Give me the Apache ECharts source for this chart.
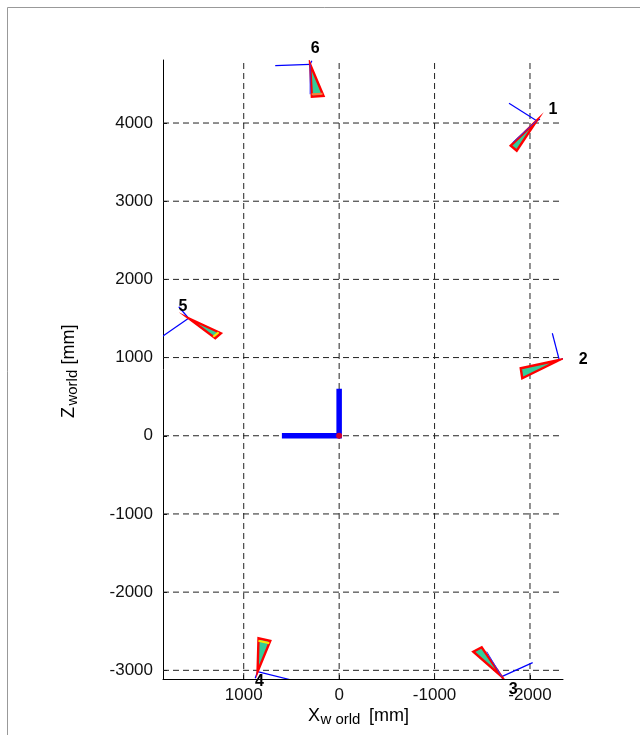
<!DOCTYPE html>
<html>
<head>
<meta charset="utf-8">
<script src="https://cdn.jsdelivr.net/npm/echarts@6/dist/echarts.min.js"></script>
<style>
  html, body { margin: 0; padding: 0; background: #ffffff; }
  #chart { width: 640px; height: 735px; }
</style>
</head>
<body>
<div id="chart"></div>
<script>
// Axis ticks and visible ranges (world coordinates, mm)
const xTicks = [1000, 0, -1000, -2000];
const zTicks = [-3000, -2000, -1000, 0, 1000, 2000, 3000, 4000];
const xRange = [-2346, 1846];
const zRange = [-3111, 4806];

// Camera poses seen from above: optical centre, the two far corners of the
// view frustum, and the end points of the projected camera axes.
const cameraIds = ['1', '2', '3', '4', '5', '6'];
const cameraCenters = [[-2070, 4030], [-2307, 969], [-1704, -3081], [855, -3017], [1578, 1503], [304, 4751]];
const frustumCornerA = [[-1798, 3710], [-1903, 863], [-1406, -2761], [845, -2590], [1239, 1311], [286, 4337]];
const frustumCornerB = [[-1861, 3646], [-1919, 735], [-1494, -2705], [722, -2624], [1298, 1247], [164, 4346]];
const axisEndLong = [[-1780, 4252], [-2234, 1311], [-2028, -2902], [503, -3123], [1871, 1255], [670, 4733]];
const axisEndShort = [[-2105, 4048], [-2356, 991], [-1714, -3114], [880, -3101], [1681, 1650], [286, 4797]];
const viewAxisEnd = [[-1818, 3751], null, [-1547, -2761], null, null, [304, 4368]];
const labelPositions = [[-2241, 4166], [-2558, 978], [-1825, -3251], [835, -3145], [1637, 1651], [251, 4949]];

// World frame origin with its two in-plane axes
const worldAxes = [[600, 0], [0, 0], [0, 600]];
const worldOrigin = [[0, 0]];

const FONT = "'Liberation Sans', Arial, Helvetica, sans-serif";
const imagePlaneColors = { '4': '#ffe600', '5': '#ffe600', '6': '#ff7a3a' };

const chart = echarts.init(document.getElementById('chart'), null, { renderer: 'canvas' });

function gridLineSeries(values, vertical) {
  return {
    type: 'custom',
    silent: true,
    clip: false,
    z: 1,
    data: values.map(v => (vertical ? [v, 0] : [0, v])),
    encode: { x: 0, y: 1 },
    renderItem(params, api) {
      const v = vertical ? api.value(0) : api.value(1);
      const p1 = api.coord(vertical ? [v, zRange[0]] : [xRange[1], v]);
      const p2 = api.coord(vertical ? [v, zRange[1]] : [xRange[0], v]);
      return {
        type: 'line',
        shape: { x1: p1[0], y1: p1[1], x2: p2[0], y2: p2[1] },
        style: { stroke: '#222222', lineWidth: 1, lineDash: [6, 4] }
      };
    }
  };
}

function lineEl(p, q, color, width) {
  return {
    type: 'line',
    shape: { x1: p[0], y1: p[1], x2: q[0], y2: q[1] },
    style: { stroke: color, lineWidth: width }
  };
}

function towards(p, target, dist) {
  const dx = target[0] - p[0], dy = target[1] - p[1];
  const len = Math.hypot(dx, dy) || 1;
  return [p[0] + dx / len * dist, p[1] + dy / len * dist];
}

function renderCamera(params, api) {
  const i = params.dataIndex;
  const c = api.coord(cameraCenters[i]);
  const a = api.coord(frustumCornerA[i]);
  const b = api.coord(frustumCornerB[i]);
  const children = [
    lineEl(c, api.coord(axisEndLong[i]), '#0000ff', 1.2),
    lineEl(c, api.coord(axisEndShort[i]), '#0000ff', 1.2),
    {
      type: 'polygon',
      shape: { points: [c, a, b] },
      style: { fill: '#33cc99', stroke: '#ff0000', lineWidth: 2.4, lineJoin: 'miter' }
    }
  ];
  const plane = imagePlaneColors[cameraIds[i]];
  if (plane) {
    children.push(lineEl(towards(a, c, 2.5), towards(b, c, 2.5), plane, 2));
  }
  if (viewAxisEnd[i]) {
    children.push(lineEl(c, api.coord(viewAxisEnd[i]), '#3030ff', 1));
  }
  return { type: 'group', children };
}

function renderLabel(params, api) {
  const i = params.dataIndex;
  const p = api.coord(labelPositions[i]);
  return {
    type: 'text',
    x: p[0],
    y: p[1],
    style: {
      text: cameraIds[i],
      font: 'bold 16px ' + FONT,
      fill: '#000000',
      align: 'center',
      verticalAlign: 'middle'
    }
  };
}

// Axis title: main letter, lowered subscript, then the unit
function titleGroup(x, y, rotation, main, sub, unit, unitOffset) {
  const sMain = 18, sSub = 15;
  return {
    type: 'group',
    x, y, rotation,
    children: [
      { type: 'text', x: 0, y: -6.3, style: { text: main, font: sMain + 'px ' + FONT, fill: '#000', verticalAlign: 'middle' } },
      { type: 'text', x: 12.4, y: 3.3 - 5.3, style: { text: sub, font: sSub + 'px ' + FONT, fill: '#000', verticalAlign: 'middle' } },
      { type: 'text', x: unitOffset, y: -6.3, style: { text: unit, font: sMain + 'px ' + FONT, fill: '#000', verticalAlign: 'middle' } }
    ]
  };
}

const plainNumber = v => String(v);

const option = {
  animation: false,
  backgroundColor: '#ffffff',
  grid: { left: 163, right: 77, top: 60, bottom: 56, containLabel: false },
  xAxis: {
    type: 'value',
    inverse: true,
    min: xRange[0],
    max: xRange[1],
    axisLine: { show: true, onZero: false, lineStyle: { color: '#000', width: 1 } },
    axisTick: { show: true, inside: true, length: 4, customValues: xTicks, lineStyle: { color: '#000' } },
    axisLabel: { customValues: xTicks, formatter: plainNumber, fontSize: 17, fontFamily: FONT, color: '#111', margin: 8 },
    splitLine: { show: false }
  },
  yAxis: {
    type: 'value',
    min: zRange[0],
    max: zRange[1],
    axisLine: { show: true, onZero: false, lineStyle: { color: '#000', width: 1 } },
    axisTick: { show: true, inside: true, length: 4, customValues: zTicks, lineStyle: { color: '#000' } },
    axisLabel: { customValues: zTicks, formatter: plainNumber, fontSize: 17, fontFamily: FONT, color: '#111', margin: 10 },
    splitLine: { show: false }
  },
  graphic: [
    { type: 'rect', z: -10, shape: { x: 7.5, y: 7.5, width: 700, height: 800 }, style: { fill: null, stroke: '#999999', lineWidth: 1 } },
    titleGroup(308, 722, 0, 'X', 'w orld', '[mm]', 61),
    titleGroup(75, 418, Math.PI / 2, 'Z', 'world', '[mm]', 53.5)
  ],
  series: [
    gridLineSeries(xTicks, true),
    gridLineSeries(zTicks, false),
    {
      type: 'line',
      data: worldAxes,
      symbol: 'none',
      z: 4,
      lineStyle: { color: '#0000ff', width: 5.5, cap: 'butt', join: 'miter' },
      silent: true
    },
    {
      type: 'scatter',
      data: worldOrigin,
      symbolSize: 6,
      z: 5,
      itemStyle: { color: '#ff0000' },
      silent: true
    },
    {
      type: 'custom',
      clip: true,
      z: 6,
      data: cameraCenters.map(p => p.slice()),
      encode: { x: 0, y: 1 },
      renderItem: renderCamera,
      silent: true
    },
    {
      type: 'custom',
      clip: false,
      z: 8,
      data: labelPositions.map(p => p.slice()),
      encode: { x: 0, y: 1 },
      renderItem: renderLabel,
      silent: true
    }
  ]
};

chart.setOption(option);
</script>
</body>
</html>
